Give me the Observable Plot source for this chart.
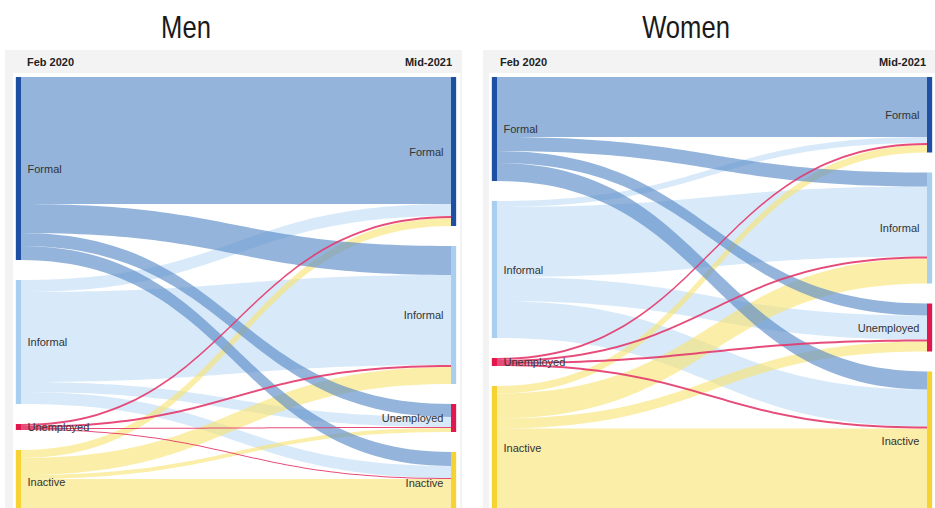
<!DOCTYPE html>
<html><head><meta charset="utf-8">
<script src="https://cdn.jsdelivr.net/npm/d3@7"></script>
<script src="https://cdn.jsdelivr.net/npm/@observablehq/plot@0.6"></script>
<style>
body{margin:0;background:#fff;width:935px;height:508px;overflow:hidden;position:relative;font-family:"Liberation Sans",Arial,sans-serif;}
.title{position:absolute;top:11px;line-height:32px;font-family:"Liberation Sans",Arial,sans-serif;font-size:32px;color:#1a1a1a;transform:translateX(-50%) scaleX(0.8);transform-origin:50% 50%;white-space:nowrap;}
.panel{position:absolute;top:50px;height:470px;background:#f3f3f3;}
.inner{position:absolute;top:73px;height:450px;background:#fff;}
.hdr{position:absolute;top:56px;font-weight:bold;font-size:11px;line-height:12px;color:#222;white-space:nowrap;}
.chart{position:absolute;left:0;top:0;}
</style></head><body>
<div class="panel" style="left:5px;width:457px"></div>
<div class="inner" style="left:13px;width:447px"></div>
<div class="panel" style="left:483px;width:452px"></div>
<div class="inner" style="left:489px;width:446px"></div>
<div id="t0" class="title" style="left:186px"></div>
<div id="t1" class="title" style="left:686px"></div>
<div id="h00" class="hdr" style="left:27px"></div>
<div id="h01" class="hdr" style="right:483px"></div>
<div id="h10" class="hdr" style="left:500px"></div>
<div id="h11" class="hdr" style="right:9px"></div>
<div id="c0" class="chart"></div>
<div id="c1" class="chart"></div>
<script>
const panels = ["Men", "Women"];
const stages = ["Feb 2020", "Mid-2021"];
const states = ["Formal", "Informal", "Unemployed", "Inactive"];
// flows from Feb 2020 state (array name) to Mid-2021 state (order of `states`)
const menFormal = [127, 29, 13, 14];
const menInformal = [12, 90, 10, 12];
const menUnemployed = [2, 2, 1, 1];
const menInactive = [8, 17, 4, 35];
const womenFormal = [60, 14, 12, 18];
const womenInformal = [6, 70, 24, 37];
const womenUnemployed = [2, 2, 2, 2];
const womenInactive = [7.5, 25, 10, 82];

const nodeColors = ["#1d4fa3", "#a8cff0", "#e1174d", "#f6d232"];
const linkColors = ["#5a8cc8", "#bedcf5", "#e3386b", "#f8e26e"];
const linkOpacity = [0.65, 0.6, 0.9, 0.6];
const gap = 20;
const nodeW = 0.012;

function layout(matrix) {
  const outTot = matrix.map(r => d3.sum(r));
  const inTot = states.map((_, j) => d3.sum(matrix, r => r[j]));
  const nodes = [];
  let y = 0;
  outTot.forEach((v, i) => { nodes.push({side: 0, i, state: states[i], y0: y, y1: y + v}); y += v + gap; });
  y = 0;
  inTot.forEach((v, j) => { nodes.push({side: 1, i: j, state: states[j], y0: y, y1: y + v}); y += v + gap; });
  const sOff = nodes.filter(d => d.side === 0).map(d => d.y0);
  const tOff = nodes.filter(d => d.side === 1).map(d => d.y0);
  const pts = [];
  const N = 60;
  matrix.forEach((row, i) => row.forEach((v, j) => {
    const s = sOff[i], t = tOff[j];
    sOff[i] += v; tOff[j] += v;
    for (let k = 0; k <= N; k++) {
      const u = k / N;
      const x = 1.5 * u * (1 - u) + u * u * u;
      const yy = s + (t - s) * (3 * u * u - 2 * u * u * u);
      pts.push({id: i + "-" + j, i, j, x, y1: yy, y2: yy + v});
    }
  }));
  return {nodes, pts};
}

function draw(matrix, xRange, el) {
  const {nodes, pts} = layout(matrix);
  const order = [1, 3, 0, 2];
  const linkMarks = order.map(i => Plot.areaY(pts.filter(p => p.i === i), {
    x: "x", y1: "y1", y2: "y2", z: "id", curve: "linear",
    fill: linkColors[i], fillOpacity: linkOpacity[i]
  }));
  const chart = Plot.plot({
    width: 935, height: 520, margin: 0,
    style: {background: "transparent", overflow: "visible"},
    x: {domain: [0, 1], range: xRange, axis: null},
    y: {domain: [0, 440], range: [77, 517], axis: null},
    color: {type: "identity"},
    marks: [
      ...linkMarks,
      Plot.rect(nodes, {
        x1: d => d.side ? 1 : -nodeW, x2: d => d.side ? 1 + nodeW : 0,
        y1: "y0", y2: "y1", fill: d => nodeColors[d.i]
      }),
      Plot.text(nodes.filter(d => d.side === 0), {
        x: "side", y: d => (d.y0 + d.y1) / 2, text: "state", textAnchor: "start", dx: 6,
        fontSize: 11, fill: "#333", fontFamily: "Liberation Sans, Arial, sans-serif"
      }),
      Plot.text(nodes.filter(d => d.side === 1), {
        x: "side", y: d => (d.y0 + d.y1) / 2, text: "state", textAnchor: "end", dx: -8,
        fontSize: 11, fill: "#333", fontFamily: "Liberation Sans, Arial, sans-serif"
      })
    ]
  });
  document.getElementById(el).appendChild(chart);
}

draw([menFormal, menInformal, menUnemployed, menInactive], [21, 451], "c0");
draw([womenFormal, womenInformal, womenUnemployed, womenInactive], [497, 927], "c1");
document.getElementById("t0").textContent = panels[0];
document.getElementById("t1").textContent = panels[1];
document.getElementById("h00").textContent = stages[0];
document.getElementById("h01").textContent = stages[1];
document.getElementById("h10").textContent = stages[0];
document.getElementById("h11").textContent = stages[1];
</script>
</body></html>
